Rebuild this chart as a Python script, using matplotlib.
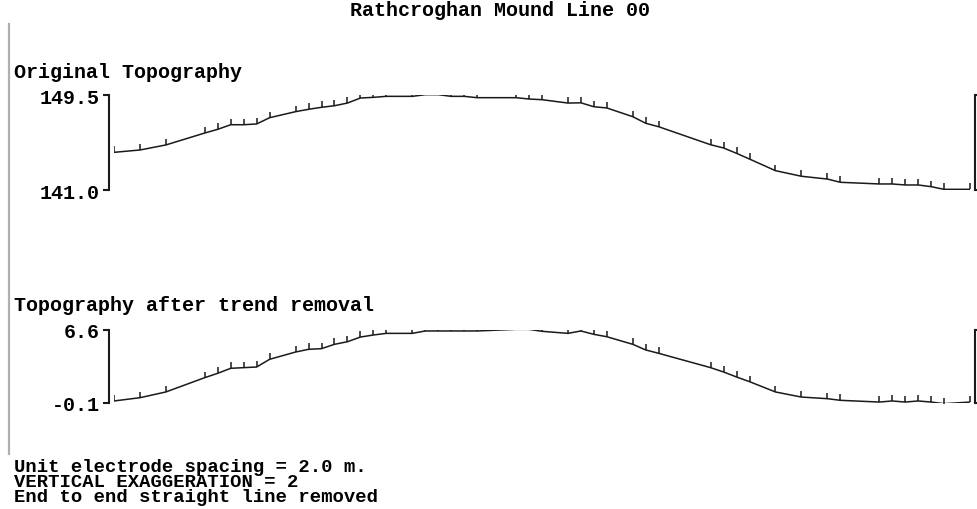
import matplotlib
matplotlib.use("Agg")
import matplotlib.pyplot as plt
from matplotlib.lines import TICKUP

plt.rcParams['axes.unicode_minus'] = False

# ---- data ----
title = "Rathcroghan Mound Line 00"
panel_titles = ["Original Topography", "Topography after trend removal"]
notes = ["Unit electrode spacing = 2.0 m.",
         "VERTICAL EXAGGERATION = 2",
         "End to end straight line removed"]

# topography point positions along the line (m)
positions = [0, 4, 8, 14, 16, 18, 20, 22, 24, 28, 30, 32, 34, 36, 38, 40, 42,
             46, 48, 50, 52, 54, 56, 62, 64, 66,
             70, 72, 74, 76, 80, 82, 84,
             92, 94, 96, 98, 102, 106, 110, 112,
             118, 120, 122, 124, 126, 128, 132]

original_elev = [144.37, 144.58, 145.03, 146.10, 146.43, 146.84, 146.84, 146.91,
                 147.47, 148.01, 148.22, 148.40, 148.54, 148.78, 149.23, 149.29, 149.38,
                 149.38, 149.53, 149.53, 149.38, 149.38, 149.26, 149.26, 149.14, 149.08,
                 148.78, 148.80, 148.45, 148.34, 147.56, 146.97, 146.66,
                 145.05, 144.76, 144.28, 143.77, 142.73, 142.23, 141.98, 141.69,
                 141.54, 141.54, 141.45, 141.45, 141.30, 141.06, 141.06]

detrended_elev = [0.06, 0.36, 0.89, 2.21, 2.61, 3.07, 3.13, 3.19,
                  3.90, 4.57, 4.82, 4.88, 5.28, 5.52, 5.95, 6.14, 6.29,
                  6.29, 6.51, 6.51, 6.51, 6.51, 6.51, 6.66, 6.66, 6.48,
                  6.29, 6.51, 6.20, 5.98, 5.28, 4.76, 4.45,
                  3.13, 2.73, 2.27, 1.84, 0.89, 0.42, 0.27, 0.12,
                  -0.04, 0.06, -0.04, 0.06, -0.04, -0.19, -0.04]

orig_ticks = [141.0, 149.5]
orig_ticklabels = ["141.0", "149.5"]
detr_ticks = [-0.1, 6.6]
detr_ticklabels = ["-0.1", "6.6"]

# ---- layout ----
W, H = 978, 510
fig = plt.figure(figsize=(W / 100, H / 100), dpi=100)
fig.patch.set_facecolor("white")

FONT = dict(family="Liberation Mono", weight="bold", color="black")
FS = 14.4


def rect(x0, x1, ytop, ybot):
    return [x0 / W, 1 - ybot / H, (x1 - x0) / W, (ybot - ytop) / H]


def panel(r, y, ylim, ticks, labels):
    ax = fig.add_axes(r)
    ax.set_facecolor("none")
    ax.plot(positions, y, color="#1a1a1a", lw=1.1, solid_joinstyle="miter")
    ax.plot(positions, y, linestyle="none", marker=TICKUP, markersize=4.6,
            markeredgewidth=1.1, color="#1a1a1a")
    ax.set_xlim(positions[0], positions[-1])
    ax.set_ylim(*ylim)
    for s in ("top", "bottom"):
        ax.spines[s].set_visible(False)
    for s in ("left", "right"):
        ax.spines[s].set_position(("outward", 3.4))
        ax.spines[s].set_linewidth(1.5)
        ax.spines[s].set_color("#1a1a1a")
    ax.set_xticks([])
    ax.set_yticks(ticks)
    ax.set_yticklabels(labels)
    ax.tick_params(axis="y", left=True, right=True, labelright=False,
                   direction="out", length=4.6, width=1.5, pad=2.0,
                   color="#1a1a1a", labelsize=FS)
    for t in ax.get_yticklabels():
        t.set_fontfamily(FONT["family"])
        t.set_fontweight("bold")
    return ax


ax1 = panel(rect(114, 970, 96, 191), original_elev,
            (orig_ticks[0], orig_ticks[1]), orig_ticks, orig_ticklabels)
ax2 = panel(rect(114, 970, 331, 403.7), detrended_elev,
            (detr_ticks[0], detr_ticks[1]), detr_ticks, detr_ticklabels)

# left grey frame line
fig.add_artist(plt.Line2D([9 / W, 9 / W], [1 - 455 / H, 1 - 25 / H],
                          color="#b0b0b0", lw=1.6))


def ftext(x, y, s, ha="left", va="center", size=FS, **kw):
    fig.text(x / W, 1 - y / H, s, ha=ha, va=va, fontsize=size, **FONT, **kw)


ftext(500, 10, title, ha="center")
ftext(14, 73, panel_titles[0])
ftext(14, 306, panel_titles[1])
ftext(14, 459, "\n".join(notes), va="top", size=13.6, linespacing=0.84)

fig.savefig("out.png", dpi=100, facecolor="white")
